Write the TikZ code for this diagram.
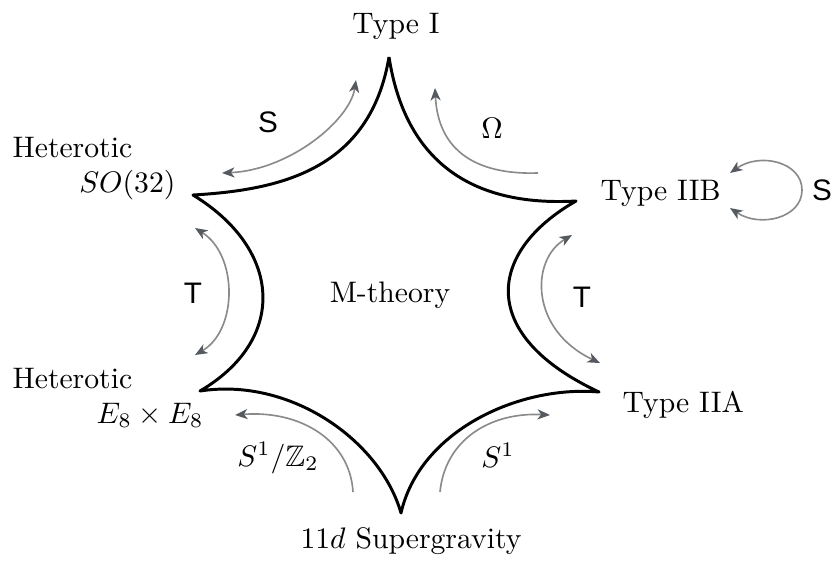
\documentclass[tikz,border=0pt]{standalone}
\usepackage{fontspec}
\usepackage{amssymb}
\newfontfamily\lblsf{Liberation Sans}
\usetikzlibrary{arrows.meta}
\definecolor{relgray}{HTML}{8A8A8A}
\definecolor{tipgray}{HTML}{555960}
\begin{document}
\begin{tikzpicture}[x=0.337pt,y=-0.337pt,
  starline/.style={line width=1pt, black, line join=round},
  rel/.style={draw=relgray, line width=0.55pt},
  tip/.tip={Stealth[length=4.2pt,width=3.4pt,inset=1.2pt,color=tipgray]},
  onearrow/.style={rel, -tip},
  twoarrow/.style={rel, tip-tip},
  lbl/.style={inner sep=0pt, font=\normalsize},
  oplbl/.style={inner sep=0pt, font=\lblsf\normalsize}]
\useasboundingbox (0,0) rectangle (832,560);

% star vertices
\coordinate (T)  at (389,57);
\coordinate (UR) at (576,201);
\coordinate (LR) at (599,392);
\coordinate (B)  at (401,513);
\coordinate (LL) at (200,391);
\coordinate (UL) at (193,195);

\draw[starline] (T) .. controls (405,160) and (470,207) .. (UR)
  .. controls (487,252) and (477,335) .. (LR)
  .. controls (520,385) and (420,430) .. (B)
  .. controls (380,440) and (290,377) .. (LL)
  .. controls (287,340) and (283,250) .. (UL)
  .. controls (280,190) and (370,170) .. (T);

% labels
\node[lbl, anchor=base] (typeI) at (396,33) {Type I};
\node[lbl, anchor=base west] (hetA) at (12,157) {Heterotic};
\node[lbl, anchor=base east] (hetAg) at (176,192) {$SO(32)$};
\node[lbl, anchor=base west] (hetB) at (12,388) {Heterotic};
\node[lbl, anchor=base east] (hetBg) at (204,423) {$E_8\times E_8$};
\node[lbl, anchor=base west] (iib) at (600,200) {Type IIB};
\node[lbl, anchor=base west] (iia) at (622,412) {Type IIA};
\node[lbl, anchor=base] (sugra) at (411,548) {$11d$ Supergravity};
\node[lbl, anchor=base] (mth) at (390,302) {M-theory};

% arrow end points
\coordinate (s1) at (222,173);
\coordinate (s2) at (356,80);
\coordinate (o1) at (538,173);
\coordinate (o2) at (435,88);
\coordinate (tl1) at (195,228);
\coordinate (tl2) at (195,355);
\coordinate (tr1) at (572,235);
\coordinate (tr2) at (600,363);
\coordinate (z1) at (353,492);
\coordinate (z2) at (235,415);
\coordinate (c1) at (440,492);
\coordinate (c2) at (550,415);
\coordinate (b1) at (730,173);
\coordinate (b2) at (730,208);

\draw[twoarrow] (s1) .. controls (290,170) and (350,120) .. (s2);
\draw[onearrow] (o1) .. controls (475,175) and (438,150) .. (o2);
\draw[twoarrow] (tl1) .. controls (238,255) and (238,330) .. (tl2);
\draw[twoarrow] (tr1) .. controls (530,260) and (530,330) .. (tr2);
\draw[onearrow] (z1) .. controls (350,440) and (300,410) .. (z2);
\draw[onearrow] (c1) .. controls (445,440) and (490,412) .. (c2);
\draw[twoarrow] (b1) .. controls (760,152) and (802,162) .. (802,190)
  .. controls (802,218) and (760,228) .. (b2);

% operation labels
\node[oplbl] (sA) at (268,122) {S};
\node[lbl] (om) at (492,128) {$\Omega$};
\node[oplbl] (tA) at (193,293) {T};
\node[oplbl] (tB) at (582,297) {T};
\node[lbl] (zl) at (278,458) {$S^1/\mathbb{Z}_2$};
\node[lbl] (sl) at (498,455) {$S^1$};
\node[oplbl] (sB) at (822,190) {S};
\end{tikzpicture}
\end{document}
